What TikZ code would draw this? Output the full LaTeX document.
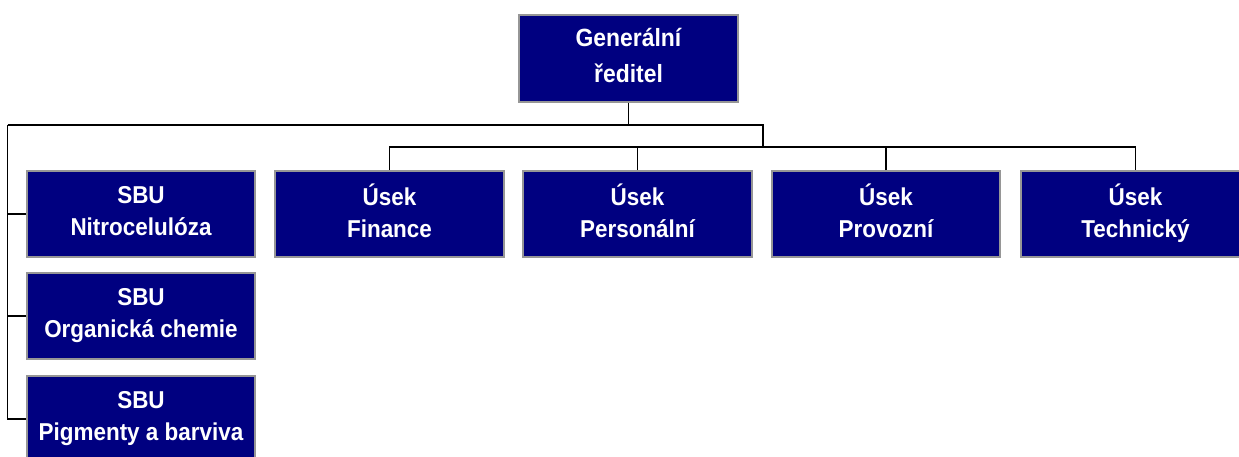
\documentclass[tikz,border=0pt]{standalone}
\usepackage{fontspec}
\setmainfont[FakeStretch=0.92]{Liberation Sans}
\definecolor{boxblue}{RGB}{0,0,128}
\definecolor{boxedge}{RGB}{150,150,150}
\newcommand\lnstrut{\rule[-6pt]{0pt}{22pt}}
\newcommand\topstrut{\rule[-6pt]{0pt}{23pt}}
\begin{document}
\begin{tikzpicture}[x=1bp,y=-1bp,
  orgbox/.style={rectangle,fill=boxblue,draw=boxedge,line width=1.5bp,
    text=white,align=center,inner sep=0pt,
    font=\bfseries\fontsize{24.5}{32}\selectfont},
  conn/.style={draw=black,line width=1.5bp}]
\useasboundingbox (0,0) rectangle (1239,457);
\clip (0,0) rectangle (1239,457);
\node[orgbox,minimum width=219bp,minimum height=87bp,font=\bfseries\fontsize{25}{36}\selectfont] (gr) at (628.5,58.5) {\topstrut Generální\\ředitel\topstrut};
\node[orgbox,minimum width=229bp,minimum height=86bp] (fin) at (389.5,214) {\lnstrut Úsek\\Finance\lnstrut};
\node[orgbox,minimum width=229bp,minimum height=86bp] (per) at (637.5,214) {\lnstrut Úsek\\Personální\lnstrut};
\node[orgbox,minimum width=228bp,minimum height=86bp] (pro) at (886,214) {\lnstrut Úsek\\Provozní\lnstrut};
\node[orgbox,minimum width=229bp,minimum height=86bp] (tech) at (1135.5,214) {\lnstrut Úsek\\Technický\lnstrut};
\node[orgbox,minimum width=228bp,minimum height=86bp] (s1) at (141,214) {\lnstrut SBU\\Nitrocelulóza\lnstrut};
\node[orgbox,minimum width=228bp,minimum height=86bp] (s2) at (141,316) {\lnstrut SBU\\Organická chemie\lnstrut};
\node[orgbox,minimum width=228bp,minimum height=86bp] (s3) at (141,419) {\lnstrut SBU\\Pigmenty a barviva\lnstrut};
\coordinate (j1) at (628.5,125);
\coordinate (L) at (7.5,125);
\coordinate (R) at (763,125);
\coordinate (j2) at (763,147);
\draw[conn] (gr.south) -- (j1);
\draw[conn] (L) -- (R) -- (j2);
\draw[conn] (fin.north) |- (j2);
\draw[conn] (j2) -| (tech.north);
\draw[conn] (per.north) -- (per.north |- j2);
\draw[conn] (pro.north) -- (pro.north |- j2);
\draw[conn] (L) |- (s3.west);
\draw[conn] (s1.west) -- (s1.west -| L);
\draw[conn] (s2.west) -- (s2.west -| L);
\end{tikzpicture}
\end{document}
